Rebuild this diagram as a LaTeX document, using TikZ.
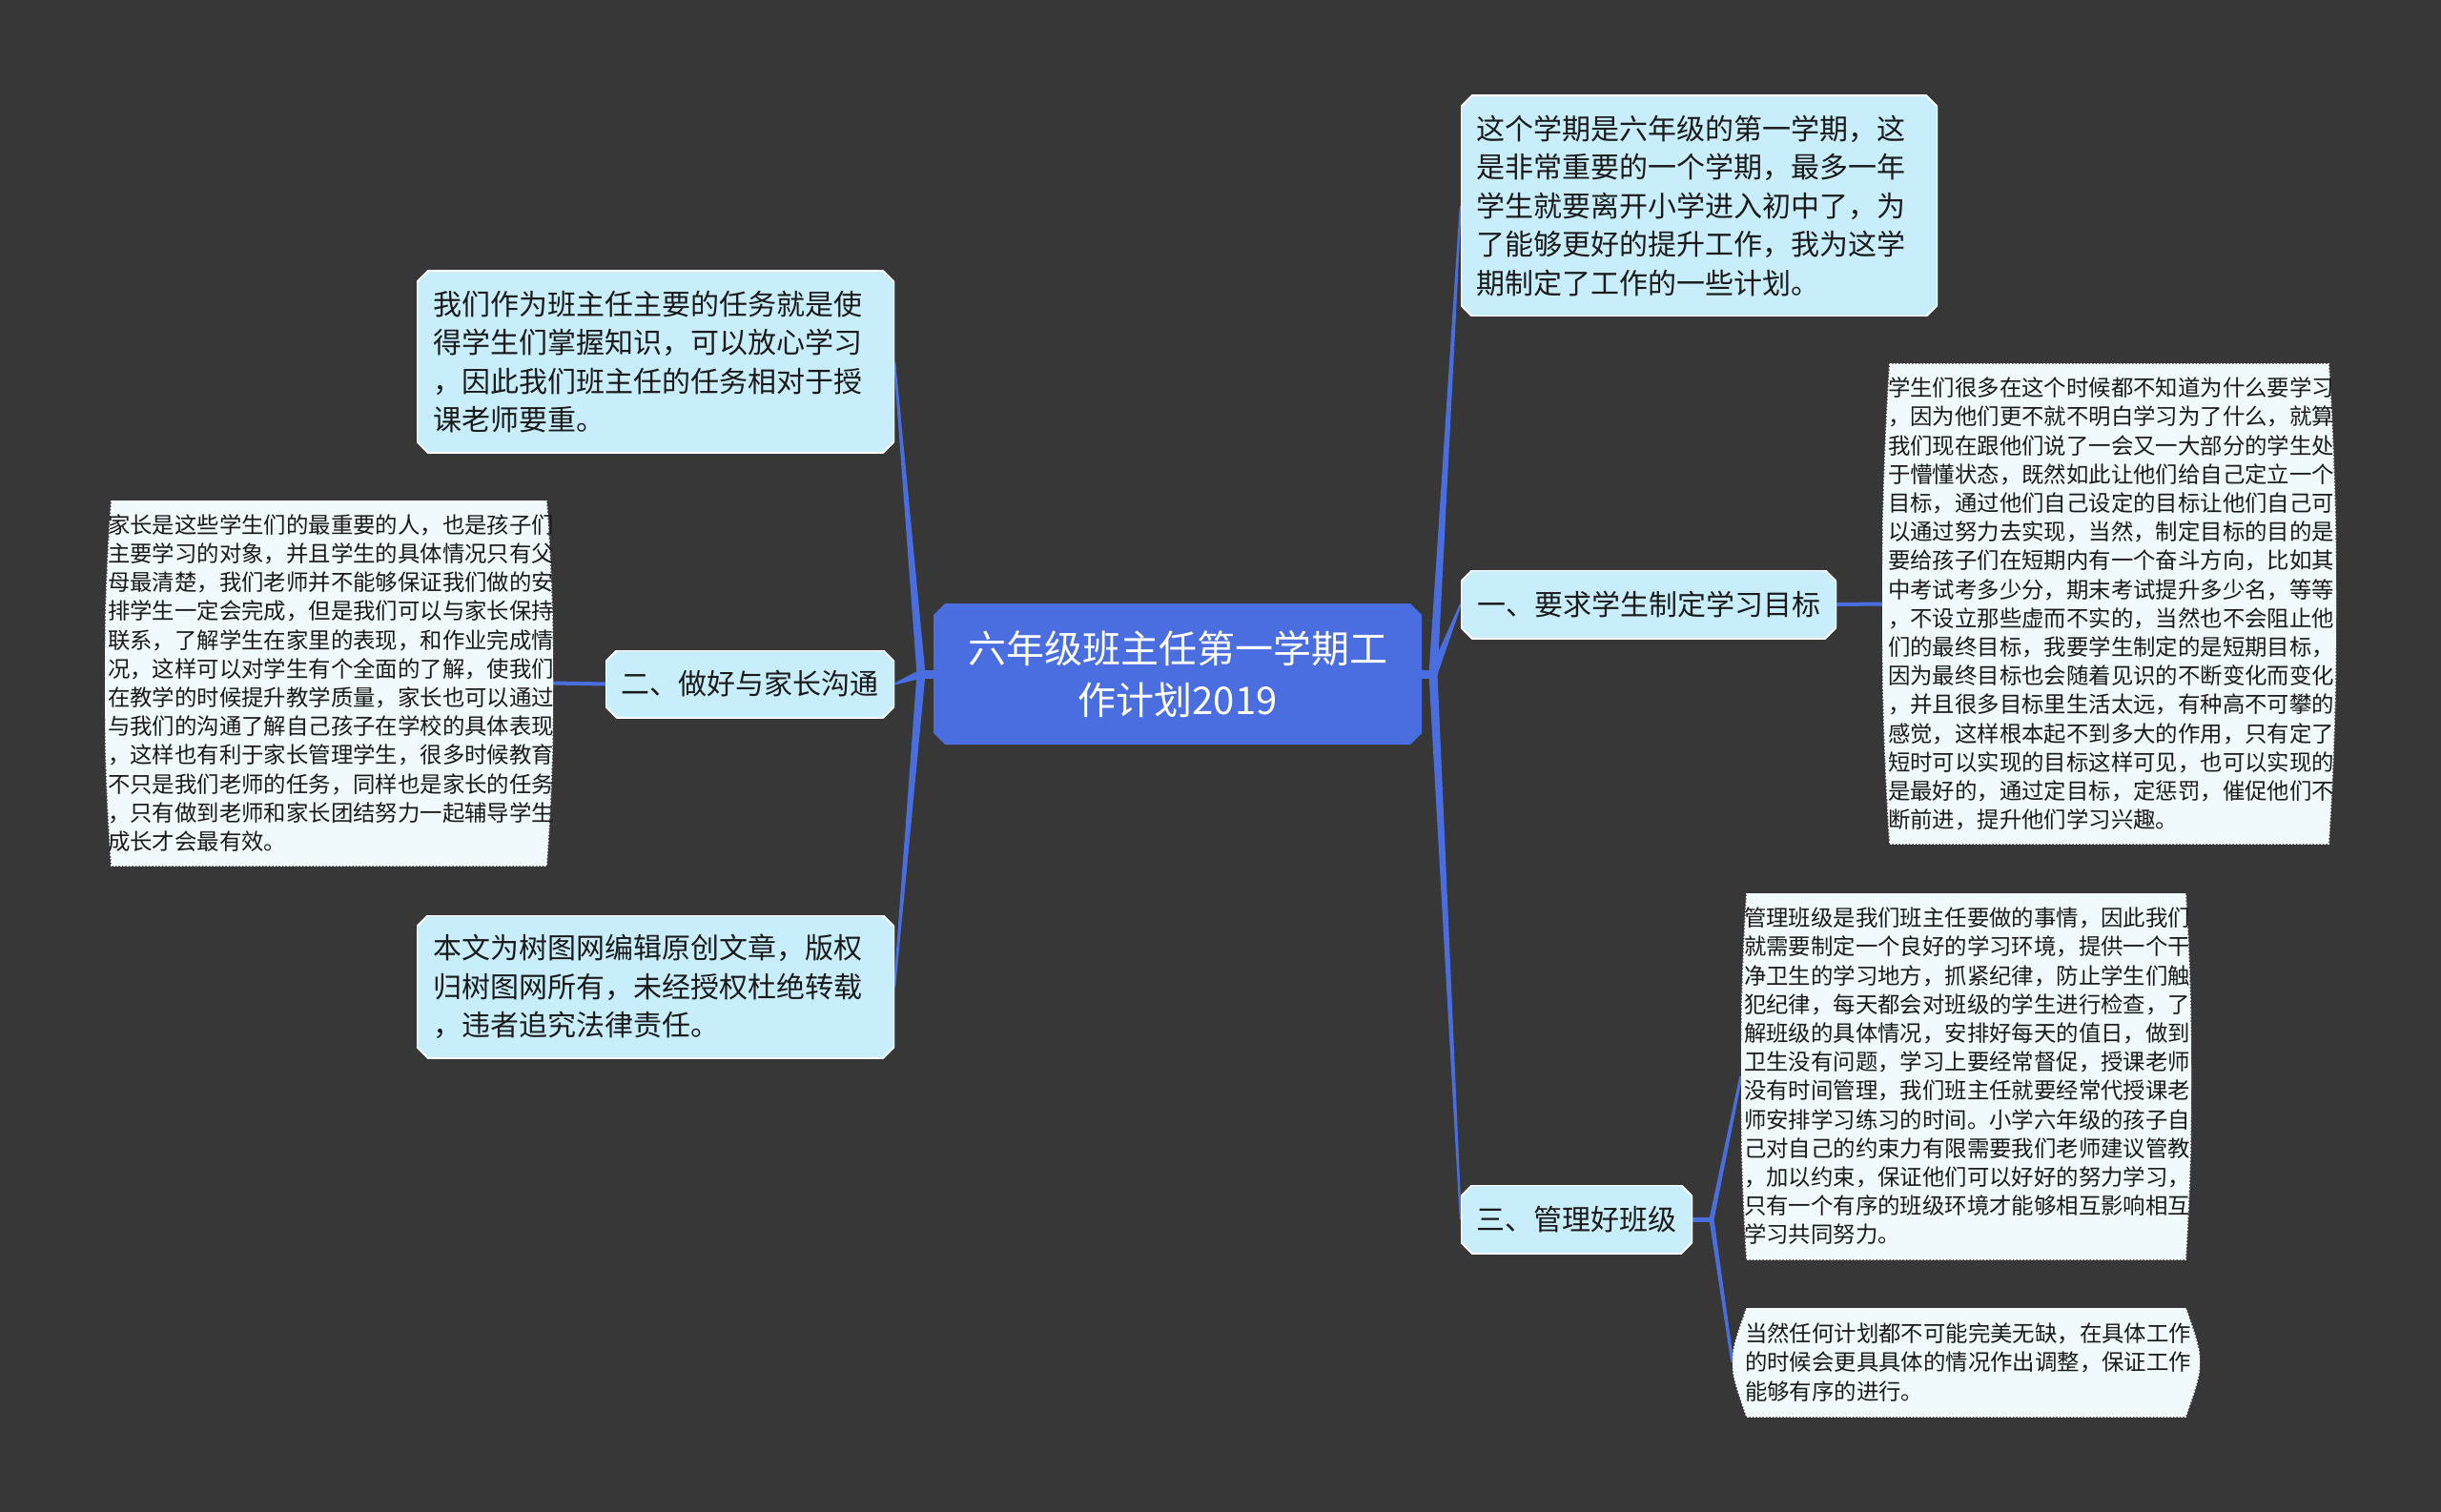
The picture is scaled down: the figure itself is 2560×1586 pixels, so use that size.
\documentclass[tikz,border=0pt]{standalone}
\usepackage{fontspec}
\setmainfont{Noto Sans CJK SC}
\usetikzlibrary{calc}
\setlength\parindent{0pt}
\definecolor{bgc}{HTML}{373737}
\definecolor{mainblue}{HTML}{4A6EE0}
\definecolor{labfill}{HTML}{C9EEFB}
\definecolor{leaffill}{HTML}{F0FAFD}
\definecolor{txt}{HTML}{1A1A1A}
\newcommand\xfonttitle{\fontsize{40}{54}\selectfont}
\newcommand\xfontmain{\fontsize{30}{40.5}\selectfont}
\newcommand\xfontleaf{\fontsize{23.4}{30.2}\selectfont}
\newcommand\taper[4]{\fill[mainblue] ($(#1)!#3!90:(#2)$) -- ($(#2)!#4!-90:(#1)$) -- ($(#2)!#4!90:(#1)$) -- ($(#1)!#3!-90:(#2)$) -- cycle;}
\pgfdeclarelayer{back}
\pgfdeclarelayer{lines}
\pgfsetlayers{back,lines,main}
\tikzset{
  chbox/.style={rectangle, inner sep=0pt, path picture={
    \path[#1] let \p1=(path picture bounding box.north west), \p2=(path picture bounding box.south east) in
      (\x1+12pt,\y1) -- (\x2-12pt,\y1) -- (\x2,\y1-12pt) -- (\x2,\y2+12pt) -- (\x2-12pt,\y2) -- (\x1+12pt,\y2) -- (\x1,\y2+12pt) -- (\x1,\y1-12pt) -- cycle;}},
  lab/.style={chbox={fill=labfill, draw=white, line width=2pt}, text=txt, font=\xfontmain},
  leafbase/.style={rectangle, inner sep=0pt, text=txt, font=\xfontleaf, align=left},
  leafborder/.style={fill=leaffill, draw=white, line width=1.6pt, dash pattern=on 2pt off 1.5pt},
  leaf/.style={leafbase, path picture={
    \path[leafborder] let \p1=(path picture bounding box.north west), \p2=(path picture bounding box.south east), \n1={(\y1-\y2)/3} in
      (\x1+#1,\y1) -- (\x2-#1,\y1) .. controls (\x2+#1/3,\y1-\n1) and (\x2+#1/3,\y2+\n1) .. (\x2-#1,\y2) -- (\x1+#1,\y2) .. controls (\x1-#1/3,\y2+\n1) and (\x1-#1/3,\y1-\n1) .. cycle;}},
  leafpt/.style={leafbase, path picture={
    \path[leafborder] let \p1=(path picture bounding box.north west), \p2=(path picture bounding box.south east), \n1={(\y1+\y2)/2} in
      (\x1+#1,\y1) -- (\x2-#1,\y1) .. controls (\x2+#1/3,\n1) and (\x2+#1/3,\n1) .. (\x2-#1,\y2) -- (\x1+#1,\y2) .. controls (\x1-#1/3,\n1) and (\x1-#1/3,\n1) .. cycle;}}
}
\begin{document}
\begin{tikzpicture}[x=1pt,y=-1pt]
\begin{pgfonlayer}{back}
\fill[bgc] (0,0) rectangle (2560,1586);
\end{pgfonlayer}
\useasboundingbox (0,0) rectangle (2560,1586);

\node[chbox={fill=mainblue}, minimum width=512pt, minimum height=148pt, text=white, align=center, font=\xfonttitle] (c) at (1235,707) {六年级班主任第一学期工\\作计划2019};

\node[lab, minimum width=500pt, minimum height=232pt, inner xsep=16pt, text width=468pt, align=left] (r1) at (1782,216) {这个学期是六年级的第一学期，这\\是非常重要的一个学期，最多一年\\学生就要离开小学进入初中了，为\\了能够更好的提升工作，我为这学\\期制定了工作的一些计划。};

\node[lab, minimum width=394pt, minimum height=72pt, align=center] (r2) at (1729,634) {一、要求学生制定学习目标};
\node[lab, minimum width=243pt, minimum height=72pt, align=center] (r3) at (1653.5,1279) {三、管理好班级};

\node[lab, minimum width=501pt, minimum height=191pt, inner xsep=17pt, text width=467pt, align=left] (l1) at (687.5,379.5) {我们作为班主任主要的任务就是使\\得学生们掌握知识，可以放心学习\\，因此我们班主任的任务相对于授\\课老师要重。};
\node[lab, minimum width=303pt, minimum height=71pt, align=center] (l2) at (786.5,717.5) {二、做好与家长沟通};
\node[lab, minimum width=501pt, minimum height=150pt, inner xsep=17pt, text width=467pt, align=left] (l3) at (687.5,1035) {本文为树图网编辑原创文章，版权\\归树图网所有，未经授权杜绝转载\\，违者追究法律责任。};

\node[leaf=7pt, minimum width=470pt, minimum height=383pt, inner xsep=3pt, text width=464pt] (l2leaf) at (345,716.5) {家长是这些学生们的最重要的人，也是孩子们\\主要学习的对象，并且学生的具体情况只有父\\母最清楚，我们老师并不能够保证我们做的安\\排学生一定会完成，但是我们可以与家长保持\\联系，了解学生在家里的表现，和作业完成情\\况，这样可以对学生有个全面的了解，使我们\\在教学的时候提升教学质量，家长也可以通过\\与我们的沟通了解自己孩子在学校的具体表现\\，这样也有利于家长管理学生，很多时候教育\\不只是我们老师的任务，同样也是家长的任务\\，只有做到老师和家长团结努力一起辅导学生\\成长才会最有效。};

\node[leaf=8pt, minimum width=476pt, minimum height=503pt, inner xsep=6pt, text width=464pt] (r2leaf) at (2212,633.5) {学生们很多在这个时候都不知道为什么要学习\\，因为他们更不就不明白学习为了什么，就算\\我们现在跟他们说了一会又一大部分的学生处\\于懵懂状态，既然如此让他们给自己定立一个\\目标，通过他们自己设定的目标让他们自己可\\以通过努力去实现，当然，制定目标的目的是\\要给孩子们在短期内有一个奋斗方向，比如其\\中考试考多少分，期末考试提升多少名，等等\\，不设立那些虚而不实的，当然也不会阻止他\\们的最终目标，我要学生制定的是短期目标，\\因为最终目标也会随着见识的不断变化而变化\\，并且很多目标里生活太远，有种高不可攀的\\感觉，这样根本起不到多大的作用，只有定了\\短时可以实现的目标这样可见，也可以实现的\\是最好的，通过定目标，定惩罚，催促他们不\\断前进，提升他们学习兴趣。};

\node[leaf=6pt, minimum width=472pt, minimum height=384pt, inner xsep=3pt, text width=466pt] (r3leafA) at (2062,1129) {管理班级是我们班主任要做的事情，因此我们\\就需要制定一个良好的学习环境，提供一个干\\净卫生的学习地方，抓紧纪律，防止学生们触\\犯纪律，每天都会对班级的学生进行检查，了\\解班级的具体情况，安排好每天的值日，做到\\卫生没有问题，学习上要经常督促，授课老师\\没有时间管理，我们班主任就要经常代授课老\\师安排学习练习的时间。小学六年级的孩子自\\己对自己的约束力有限需要我们老师建议管教\\，加以约束，保证他们可以好好的努力学习，\\只有一个有序的班级环境才能够相互影响相互\\学习共同努力。};

\node[leafpt=15pt, minimum width=490pt, minimum height=114pt, inner xsep=13pt, text width=464pt] (r3leafB) at (2062,1429) {当然任何计划都不可能完美无缺，在具体工作\\的时候会更具具体的情况作出调整，保证工作\\能够有序的进行。};

\coordinate (JL) at (966,707);
\coordinate (JR) at (1503,707);
\coordinate (J3) at (1795,1279);

\begin{pgfonlayer}{lines}
\draw[mainblue, line width=9pt] (c.west) -- (JL);
\draw[mainblue, line width=9pt] (c.east) -- (JR);
\taper{JL}{l1.east}{4.5pt}{1pt}
\taper{JL}{l2.east}{4.5pt}{1pt}
\taper{JL}{l3.east}{4.5pt}{1pt}
\taper{JR}{r1.west}{4.5pt}{1pt}
\taper{JR}{r2.west}{4.5pt}{1pt}
\taper{JR}{r3.west}{4.5pt}{1pt}
\draw[mainblue, line width=4pt] (r2.east) -- (r2leaf.west);
\draw[mainblue, line width=4pt] (l2.west) -- (l2leaf.east);
\draw[mainblue, line width=5pt] (r3.east) -- (J3);
\taper{J3}{r3leafA.west}{2.5pt}{1.5pt}
\taper{J3}{r3leafB.west}{2.5pt}{1.5pt}
\end{pgfonlayer}
\end{tikzpicture}
\end{document}
